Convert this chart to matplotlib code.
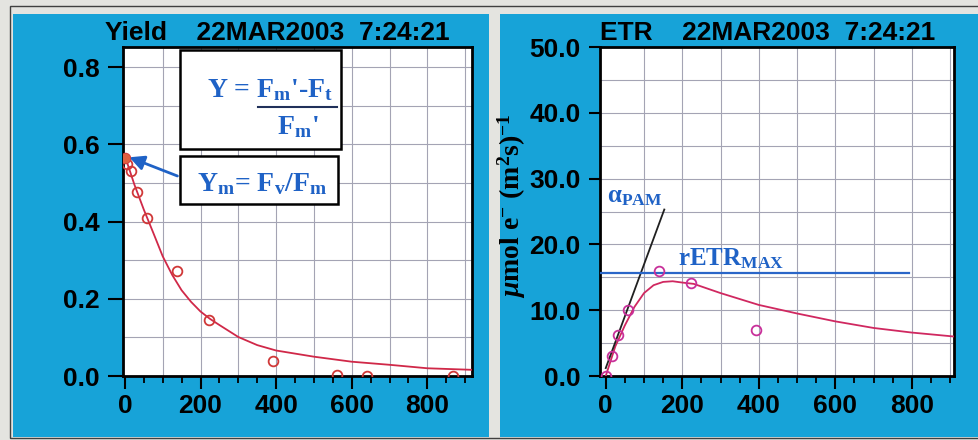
import matplotlib
matplotlib.use('Agg')
import matplotlib.pyplot as plt
import numpy as np
from matplotlib.patches import Rectangle
from matplotlib.lines import Line2D
from matplotlib.ticker import MultipleLocator, FormatStrFormatter

# PAR steps and measured effective quantum yield
par = [0, 5, 17, 33, 59, 139, 222, 392, 560, 640, 868]
yield_obs = [0.565, 0.548, 0.53, 0.476, 0.408, 0.271, 0.144, 0.040, 0.003, 0.0, 0.0]

# fitted yield curve
yfit_par = [0, 25, 50, 75, 100, 125, 150, 175, 200, 225, 250, 300, 350, 400, 500,
            600, 700, 800, 918]
yfit = [0.57, 0.496, 0.431, 0.371, 0.31, 0.262, 0.222, 0.192, 0.167, 0.148, 0.132,
        0.101, 0.08, 0.066, 0.05, 0.037, 0.029, 0.02, 0.016]

# electron transport rate
etr_par = [0, 17, 33, 59, 139, 222, 392]
etr_obs = [0.0, 3.0, 6.2, 10.0, 16.0, 14.1, 7.0]

efit_par = [0, 25, 50, 75, 100, 125, 150, 175, 200, 230, 300, 400, 500, 600, 700, 800, 910]
efit = [0.0, 4.5, 7.7, 10.5, 12.6, 13.8, 14.3, 14.4, 14.2, 14.0, 12.6, 10.8, 9.5,
        8.3, 7.3, 6.6, 6.0]

alpha_par = [0, 153]
alpha_etr = [1.2, 25.3]
retr_max = 15.6
retr_par = [-15, 793]

stamp = "22MAR2003  7:24:21"

W, H = 979, 440
BLUE_BG = '#17a3d8'
TXT_BLUE = '#1f62c6'

plt.rcParams['font.family'] = ['Liberation Sans', 'DejaVu Sans']
plt.rcParams['font.weight'] = 'bold'
plt.rcParams['mathtext.fontset'] = 'custom'
plt.rcParams['mathtext.rm'] = 'Liberation Serif:bold'
plt.rcParams['mathtext.it'] = 'Liberation Serif:italic:bold'
plt.rcParams['mathtext.bf'] = 'Liberation Serif:bold'

fig = plt.figure(figsize=(W / 100, H / 100), dpi=100, facecolor='#e4e4e0')


def fx(px):
    return px / W


def fy(py):
    return 1 - py / H


def frect(x0, y0, x1, y1):
    return [fx(x0), fy(y1), (x1 - x0) / W, (y1 - y0) / H]


# instrument panels (behind the axes)
fig.patches.append(Rectangle((fx(13), fy(437)), (489 - 13) / W, (437 - 14) / H,
                             transform=fig.transFigure, facecolor=BLUE_BG,
                             edgecolor='none', zorder=-2))
fig.patches.append(Rectangle((fx(500), fy(437)), (979 - 500) / W, (437 - 14) / H,
                             transform=fig.transFigure, facecolor=BLUE_BG,
                             edgecolor='none', zorder=-2))
fig.patches.append(Rectangle((fx(10), fy(438)), (985 - 10) / W, (438 - 6) / H,
                             transform=fig.transFigure, facecolor='none',
                             edgecolor='#404040', lw=1, zorder=-1))


def style_axes(ax, ylen):
    ax.set_facecolor('white')
    for s in ax.spines.values():
        s.set_linewidth(2)
        s.set_color('black')
    ax.xaxis.set_major_locator(MultipleLocator(200))
    ax.xaxis.set_minor_locator(MultipleLocator(50))
    ax.tick_params(axis='x', which='major', direction='out', length=9, width=1.5,
                   pad=4, labelsize=19)
    ax.tick_params(axis='x', which='minor', direction='out', length=5, width=1.3)
    ax.tick_params(axis='y', which='major', direction='out', length=ylen, width=1.5,
                   pad=6, labelsize=19)
    ax.tick_params(axis='y', which='minor', length=0)


grid_kw = dict(color='#a4a4b4', lw=0.8, zorder=1)

# ---- Yield panel ----
ax1 = fig.add_axes(frect(123, 47, 472, 376))
style_axes(ax1, 11)
ax1.set_xlim(-5, 918)
ax1.set_ylim(0, 0.852)
ax1.yaxis.set_major_locator(MultipleLocator(0.2))
ax1.yaxis.set_major_formatter(FormatStrFormatter('%.1f'))
for gx in np.arange(100, 918, 100):
    ax1.axvline(gx, **grid_kw)
for gy in np.arange(0.1, 0.85, 0.1):
    ax1.axhline(gy, **grid_kw)
ax1.plot(yfit_par, yfit, color='#d02848', lw=1.3, zorder=3)
ax1.plot(par, yield_obs, 'o', mfc='none', mec='#d03838', mew=1.3, ms=7, zorder=4)
ax1.plot(par[:1], yield_obs[:1], 'o', color='#e06040', ms=6, zorder=4)

fig.text(fx(105), fy(40), "Yield    " + stamp, fontsize=19, fontweight='bold',
         color='black', ha='left', va='baseline')

# formula boxes
box_kw = dict(transform=fig.transFigure, facecolor='white', edgecolor='black',
              lw=1.8, zorder=5)
fig.patches.append(Rectangle((fx(180), fy(149)), 161 / W, 99 / H, **box_kw))
fig.patches.append(Rectangle((fx(180), fy(204)), 158 / W, 48 / H, **box_kw))

serif = dict(family=['Liberation Serif', 'DejaVu Serif'], fontweight='bold',
             color=TXT_BLUE, zorder=6)
fig.text(fx(207), fy(97), r"Y = F$_\mathregular{m}$'-F$_\mathregular{t}$",
         fontsize=20, ha='left', va='baseline', **serif)
fig.lines.append(Line2D([fx(258), fx(337)], [fy(107), fy(107)],
                        transform=fig.transFigure, color='#20305a', lw=1.5, zorder=6))
fig.text(fx(277), fy(134), r"F$_\mathregular{m}$'", fontsize=20, ha='left',
         va='baseline', **serif)
fig.text(fx(197), fy(191), r"Y$_\mathregular{m}$= F$_\mathregular{v}$/F$_\mathregular{m}$",
         fontsize=20, ha='left', va='baseline', **serif)

ax1.annotate('', xy=(5, 0.569), xycoords='data',
             xytext=(fx(180), fy(177)), textcoords='figure fraction',
             arrowprops=dict(arrowstyle='-|>', color=TXT_BLUE, lw=2,
                             mutation_scale=22), zorder=6)

# ---- ETR panel ----
ax2 = fig.add_axes(frect(600, 47, 954, 376))
style_axes(ax2, 8)
ax2.set_xlim(-15, 910)
ax2.set_ylim(0, 50)
ax2.yaxis.set_major_locator(MultipleLocator(10))
ax2.yaxis.set_major_formatter(FormatStrFormatter('%.1f'))
for gx in np.arange(100, 910, 100):
    ax2.axvline(gx, **grid_kw)
for gy in np.arange(5, 50, 5):
    ax2.axhline(gy, **grid_kw)
ax2.plot(efit_par, efit, color='#d02860', lw=1.3, zorder=3)
ax2.plot(etr_par, etr_obs, 'o', mfc='none', mec='#c8309a', mew=1.3, ms=7, zorder=4)
ax2.plot(alpha_par, alpha_etr, color='#202020', lw=1.3, zorder=3)
ax2.plot(retr_par, [retr_max, retr_max], color='#2a66c8', lw=1.6, zorder=3)

ax2.text(fx(607), fy(202), r"α$_\mathregular{PAM}$", transform=fig.transFigure,
         fontsize=18, ha='left', va='baseline', **serif)
ax2.text(fx(678), fy(265), r"rETR$_\mathregular{MAX}$", transform=fig.transFigure,
         fontsize=18, ha='left', va='baseline', **serif)

fig.text(fx(600), fy(40), "ETR    " + stamp, fontsize=19, fontweight='bold',
         color='black', ha='left', va='baseline')

fig.text(fx(512), fy(206), r"$\mu$mol e$^{\mathregular{-}}$ (m$^{\mathregular{2}}$s)$^{\mathregular{-1}}$",
         rotation=90, fontsize=20, ha='center', va='center',
         family=['Liberation Serif', 'DejaVu Serif'], fontweight='bold', color='black')

fig.savefig('out.png', dpi=100, facecolor=fig.get_facecolor())
